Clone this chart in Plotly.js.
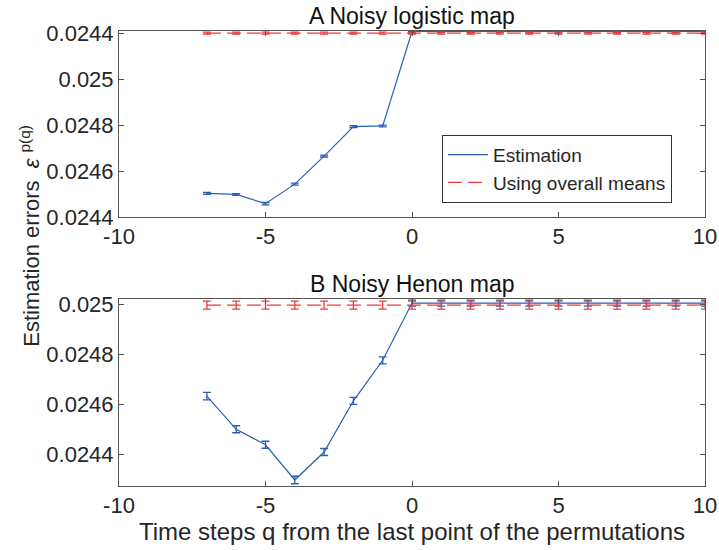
<!DOCTYPE html>
<html>
<head>
<meta charset="utf-8">
<script src="https://cdn.plot.ly/plotly-3.0.1.min.js"></script>
<style>html,body{margin:0;padding:0;background:#fff;}#chart{width:719px;height:550px;}</style>
</head>
<body>
<div id="chart"></div>
<script>
// Time steps q
const qEst = [-7, -6, -5, -4, -3, -2, -1, 0, 1, 2, 3, 4, 5, 6, 7, 8, 9, 10];
const qMean = [-7, -6, -5, -4, -3, -2, -1, 0, 1, 2, 3, 4, 5, 6, 7, 8, 9, 10];

// A Noisy logistic map
const logisticEst = [0.024503, 0.024498, 0.024458, 0.024543, 0.024665, 0.024793, 0.024796,
  0.025207, 0.025207, 0.025207, 0.025207, 0.025207, 0.025207, 0.025207, 0.025207, 0.025207, 0.025207, 0.025207];
const logisticEstErr = [0.000004, 0.000004, 0.000005, 0.000004, 0.000004, 0.000004, 0.000004,
  0.000003, 0.000003, 0.000003, 0.000003, 0.000003, 0.000003, 0.000003, 0.000003, 0.000003, 0.000003, 0.000003];
const logisticMean = [0.0252, 0.0252, 0.0252, 0.0252, 0.0252, 0.0252, 0.0252, 0.0252, 0.0252,
  0.0252, 0.0252, 0.0252, 0.0252, 0.0252, 0.0252, 0.0252, 0.0252, 0.0252];
const logisticMeanErr = [0.000004, 0.000004, 0.000004, 0.000004, 0.000004, 0.000004, 0.000004, 0.000004, 0.000004,
  0.000004, 0.000004, 0.000004, 0.000004, 0.000004, 0.000004, 0.000004, 0.000004, 0.000004];

// B Noisy Henon map
const henonEst = [0.024633, 0.0245, 0.024438, 0.024297, 0.024409, 0.024614, 0.024776,
  0.025005, 0.025005, 0.025005, 0.025005, 0.025005, 0.025005, 0.025005, 0.025005, 0.025005, 0.025005, 0.025005];
const henonEstErr = [0.000015, 0.000014, 0.000014, 0.000015, 0.000014, 0.000014, 0.000014,
  0.000012, 0.000012, 0.000012, 0.000012, 0.000012, 0.000012, 0.000012, 0.000012, 0.000012, 0.000012, 0.000012];
const henonMean = [0.024997, 0.024997, 0.024997, 0.024997, 0.024997, 0.024997, 0.024997, 0.024997, 0.024997,
  0.024997, 0.024997, 0.024997, 0.024997, 0.024997, 0.024997, 0.024997, 0.024997, 0.024997];
const henonMeanErr = [0.000016, 0.000016, 0.000016, 0.000016, 0.000016, 0.000016, 0.000016, 0.000016, 0.000016,
  0.000016, 0.000016, 0.000016, 0.000016, 0.000016, 0.000016, 0.000016, 0.000016, 0.000016];

// Tick labels
const xTicks = [-10, -5, 0, 5, 10];
const topYTickVals = [0.0244, 0.0246, 0.0248, 0.025, 0.0252];
const topYTickText = ['0.0244', '0.0246', '0.0248', '0.025', '0.0244'];
const botYTickVals = [0.0244, 0.0246, 0.0248, 0.025];
const botYTickText = ['0.0244', '0.0246', '0.0248', '0.025'];

const BLUE = '#2b5fb4';
const RED = '#f03a3a';
const FONT = 'Liberation Sans, Arial, Helvetica, sans-serif';
const TXT = '#262626';

function estTrace(y, err, xa, ya, show) {
  return {x: qEst, y: y, xaxis: xa, yaxis: ya, type: 'scatter', mode: 'lines',
    name: 'Estimation', showlegend: show,
    line: {color: BLUE, width: 1.2},
    error_y: {type: 'data', array: err, visible: true, color: BLUE, thickness: 1.3, width: 4}};
}
function meanTrace(y, err, xa, ya, show) {
  return {x: qMean, y: y, xaxis: xa, yaxis: ya, type: 'scatter', mode: 'lines',
    name: 'Using overall means', showlegend: show,
    line: {color: RED, width: 1.3, dash: '14px,6px'},
    error_y: {type: 'data', array: err, visible: true, color: RED, thickness: 1.3, width: 4}};
}

const data = [
  estTrace(logisticEst, logisticEstErr, 'x2', 'y2', true),
  meanTrace(logisticMean, logisticMeanErr, 'x2', 'y2', true),
  estTrace(henonEst, henonEstErr, 'x', 'y', false),
  meanTrace(henonMean, henonMeanErr, 'x', 'y', false)
];

const axBase = {
  showgrid: false, zeroline: false, showline: true, mirror: 'ticks',
  linecolor: '#555', linewidth: 1, ticks: 'inside', ticklen: 5, tickcolor: '#555',
  tickfont: {family: FONT, size: 22, color: TXT}
};

const layout = {
  width: 719, height: 550,
  margin: {l: 119, r: 14, t: 31, b: 64},
  paper_bgcolor: '#fff', plot_bgcolor: '#fff',
  font: {family: FONT, color: TXT},
  showlegend: true,
  legend: {x: 0.9437, xanchor: 'right', y: 0.772, yanchor: 'top',
    bgcolor: '#fff', bordercolor: '#333', borderwidth: 1,
    font: {family: FONT, size: 19, color: TXT}, tracegroupgap: 0, itemwidth: 40},
  xaxis: Object.assign({}, axBase, {domain: [0, 1], anchor: 'y', range: [-10, 10],
    tickvals: xTicks, ticktext: xTicks.map(String),
    title: {text: 'Time steps q from the last point of the permutations', font: {family: FONT, size: 24, color: TXT}, standoff: 3}}),
  yaxis: Object.assign({}, axBase, {domain: [0, 0.4116], anchor: 'x', range: [0.024273, 0.0250224],
    tickvals: botYTickVals, ticktext: botYTickText}),
  xaxis2: Object.assign({}, axBase, {domain: [0, 1], anchor: 'y2', range: [-10, 10],
    tickvals: xTicks, ticktext: xTicks.map(String)}),
  yaxis2: Object.assign({}, axBase, {domain: [0.5912, 1], anchor: 'x2', range: [0.0244, 0.025209],
    tickvals: topYTickVals, ticktext: topYTickText}),
  annotations: [
    {text: 'A Noisy logistic map', xref: 'paper', yref: 'paper', x: 0.5, y: 1, yanchor: 'bottom', yshift: 0,
      showarrow: false, font: {family: FONT, size: 23, color: '#111'}},
    {text: 'B Noisy Henon map', xref: 'paper', yref: 'paper', x: 0.5, y: 0.4116, yanchor: 'bottom', yshift: 0,
      showarrow: false, font: {family: FONT, size: 23, color: '#111'}},
    {text: 'Estimation errors  <i>ε</i> <sup>p(q)</sup>', xref: 'paper', yref: 'paper', x: 0, xshift: -105,
      y: 0.55, textangle: -90, showarrow: false, font: {family: FONT, size: 22, color: TXT}}
  ]
};

Plotly.newPlot('chart', data, layout, {displayModeBar: false, staticPlot: true});
</script>
</body>
</html>
